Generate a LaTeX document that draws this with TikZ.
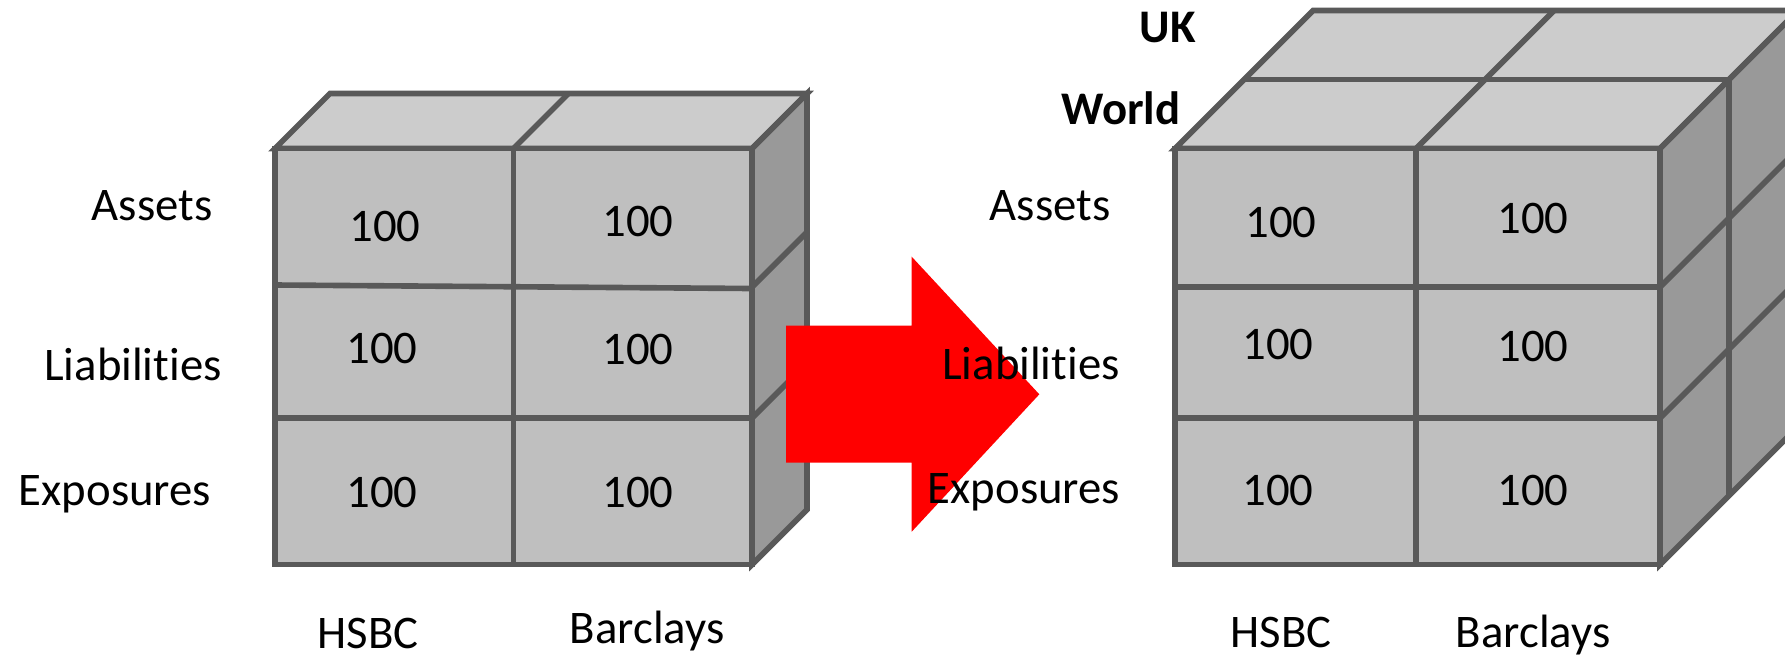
\documentclass[tikz,border=0pt]{standalone}
\usepackage{fontspec}
\setmainfont{Carlito}[Ligatures=NoCommon]
\usepackage{tikz}
\usetikzlibrary{calc}

\definecolor{cellgray}{HTML}{BFBFBF}
\definecolor{topgray}{HTML}{CCCCCC}
\definecolor{sidegray}{HTML}{999999}
\definecolor{edgegray}{HTML}{595959}

\begin{document}
\begin{tikzpicture}[scale=1.00,
  face/.style={draw=edgegray,line width=1.6pt},
  lbl/.style={anchor=base,inner sep=0pt,font=\fontsize{13.3}{16}\selectfont},
  lblb/.style={anchor=base,inner sep=0pt,font=\fontsize{13.3}{16}\selectfont\bfseries}]
\useasboundingbox (0,0) rectangle (17.85,6.57);

% left cube
\draw[face,fill=topgray] (2.75,5.085)--(3.30,5.635)--(8.07,5.635)--(7.52,5.085)--cycle;
\draw[face] (5.135,5.085)--(5.685,5.635);
\draw[face,fill=sidegray] (7.52,5.085)--(8.07,5.635)--(8.07,1.475)--(7.52,0.925)--cycle;
\draw[face] (7.52,3.70)--(8.07,4.25);
\draw[face] (7.52,2.39)--(8.07,2.94);
\draw[face,fill=cellgray] (2.75,0.925) rectangle (7.52,5.085);
\draw[face] (5.135,0.925)--(5.135,5.085);
\draw[face] (2.75,3.72)--(7.52,3.685);
\draw[face] (2.75,2.39)--(7.52,2.39);

% right cube
\draw[face,fill=topgray] (11.75,5.085)--(13.13,6.465)--(17.98,6.465)--(16.60,5.085)--cycle;
\draw[face] (12.44,5.775)--(17.29,5.775);
\draw[face] (14.16,5.085)--(15.54,6.465);
\draw[face,fill=sidegray] (16.60,5.085)--(17.98,6.465)--(17.98,2.305)--(16.60,0.925)--cycle;
\draw[face] (17.29,5.775)--(17.29,1.615);
\draw[face] (16.60,3.70)--(17.98,5.08);
\draw[face] (16.60,2.39)--(17.98,3.77);
\draw[face,fill=cellgray] (11.75,0.925) rectangle (16.60,5.085);
\draw[face] (14.16,0.925)--(14.16,5.085);
\draw[face] (11.75,3.70)--(16.60,3.70);
\draw[face] (11.75,2.39)--(16.60,2.39);

% arrow
\fill[red] (7.86,3.313)--(9.117,3.313)--(9.117,4.003)--(10.393,2.627)
       --(9.117,1.253)--(9.117,1.943)--(7.86,1.943)--cycle;

\node[lbl] (lAssets) at (1.52,4.37) {Assets};
\node[lbl] (lLiab) at (1.33,2.77) {Liabilities};
\node[lbl] (lExp) at (1.15,1.515) {Exposures};
\node[lbl] (lA1) at (3.85,4.16) {100};
\node[lbl] (lA2) at (6.38,4.21) {100};
\node[lbl] (lL1) at (3.82,2.94) {100};
\node[lbl] (lL2) at (6.38,2.93) {100};
\node[lbl] (lE1) at (3.82,1.495) {100};
\node[lbl] (lE2) at (6.38,1.495) {100};
\node[lbl] (lHSBC) at (3.68,0.09) {HSBC};
\node[lbl] (lBarc) at (6.47,0.14) {Barclays};

\node[lblb] (rUK) at (11.68,6.15) {UK};
\node[lblb] (rWorld) at (11.21,5.33) {World};
\node[lbl] (rAssets) at (10.50,4.37) {Assets};
\node[lbl] (rLiab) at (10.31,2.78) {Liabilities};
\node[lbl] (rExp) at (10.24,1.54) {Exposures};
\node[lbl] (rA1) at (12.81,4.195) {100};
\node[lbl] (rA2) at (15.33,4.237) {100};
\node[lbl] (rL1) at (12.78,2.975) {100};
\node[lbl] (rL2) at (15.33,2.96) {100};
\node[lbl] (rE1) at (12.78,1.52) {100};
\node[lbl] (rE2) at (15.33,1.52) {100};
\node[lbl] (rHSBC) at (12.81,0.10) {HSBC};
\node[lbl] (rBarc) at (15.33,0.10) {Barclays};
\end{tikzpicture}
\end{document}
